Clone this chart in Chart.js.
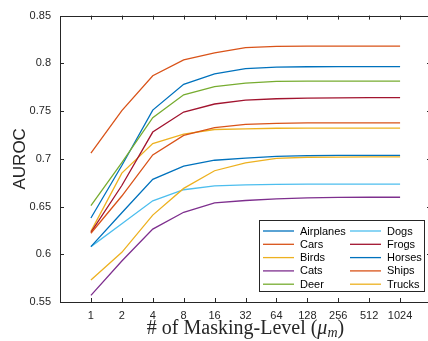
<!DOCTYPE html>
<html>
<head>
<meta charset="utf-8">
<script src="https://cdn.jsdelivr.net/npm/chart.js@4/dist/chart.umd.min.js"></script>
<style>
  html, body { margin: 0; padding: 0; background: #fff; overflow: hidden; }
  #wrap { width: 428px; height: 341px; overflow: hidden; }
  #box { width: 436px; height: 341px; }
</style>
</head>
<body>
<div id="wrap"><div id="box"><canvas id="auroc"></canvas></div></div>
<script>
// masking levels on the x axis
const levels = ['1', '2', '4', '8', '16', '32', '64', '128', '256', '512', '1024'];
const yTicks = [0.55, 0.6, 0.65, 0.7, 0.75, 0.8, 0.85];

// AUROC per class
const airplanes = [0.608, 0.6435, 0.6785, 0.6923, 0.6985, 0.7008, 0.7026, 0.7033, 0.7035, 0.7036, 0.7036];
const cars      = [0.622, 0.661, 0.704, 0.7245, 0.7327, 0.736, 0.7372, 0.7376, 0.7377, 0.7377, 0.7377];
const birds     = [0.573, 0.602, 0.641, 0.669, 0.6875, 0.6958, 0.7005, 0.7016, 0.7018, 0.702, 0.702];
const cats      = [0.557, 0.593, 0.6264, 0.644, 0.6538, 0.6563, 0.658, 0.659, 0.6595, 0.6597, 0.6597];
const deer      = [0.651, 0.696, 0.743, 0.767, 0.7756, 0.7793, 0.781, 0.7813, 0.7814, 0.7814, 0.7814];
const dogs      = [0.608, 0.632, 0.656, 0.6676, 0.6717, 0.6727, 0.6732, 0.6734, 0.6734, 0.6734, 0.6734];
const frogs     = [0.623, 0.672, 0.728, 0.749, 0.7574, 0.7615, 0.7629, 0.7636, 0.7638, 0.764, 0.764];
const horses    = [0.638, 0.693, 0.751, 0.778, 0.789, 0.7944, 0.796, 0.7964, 0.7965, 0.7965, 0.7965];
const ships     = [0.706, 0.7505, 0.787, 0.8037, 0.811, 0.8164, 0.8178, 0.818, 0.818, 0.818, 0.818];
const trucks    = [0.624, 0.685, 0.716, 0.7258, 0.7307, 0.7314, 0.732, 0.7321, 0.7321, 0.7321, 0.7321];

const classNames = ['Airplanes', 'Cars', 'Birds', 'Cats', 'Deer', 'Dogs', 'Frogs', 'Horses', 'Ships', 'Trucks'];
const series = [airplanes, cars, birds, cats, deer, dogs, frogs, horses, ships, trucks];
// matlab default colour order, wraps after 7
const palette = ['#0072BD', '#D95319', '#EDB120', '#7E2F8E', '#77AC30', '#4DBEEE', '#A2142F'];

const axisColor = '#262626';
const sans = '"Liberation Sans", Arial, sans-serif';

const datasets = series.map((vals, i) => ({
  label: classNames[i],
  data: vals.map((v, j) => ({ x: j + 1, y: v })),
  borderColor: palette[i % palette.length],
  backgroundColor: palette[i % palette.length],
  borderWidth: 1.3,
  pointRadius: 0,
  tension: 0,
  fill: false,
}));

// box round the plot with inward ticks, like matlab
const boxPlugin = {
  id: 'box',
  afterDraw(chart) {
    const { ctx, chartArea: a, scales } = chart;
    ctx.save();
    ctx.strokeStyle = axisColor;
    ctx.lineWidth = 1;
    ctx.strokeRect(Math.round(a.left) + 0.5, Math.round(a.top) + 0.5,
      Math.round(a.right - a.left), Math.round(a.bottom - a.top));
    const len = 4;
    ctx.beginPath();
    scales.x.ticks.forEach(t => {
      const px = Math.round(scales.x.getPixelForValue(t.value)) + 0.5;
      ctx.moveTo(px, a.bottom); ctx.lineTo(px, a.bottom - len);
      ctx.moveTo(px, a.top); ctx.lineTo(px, a.top + len);
    });
    scales.y.ticks.forEach(t => {
      const py = Math.round(scales.y.getPixelForValue(t.value)) + 0.5;
      ctx.moveTo(a.left, py); ctx.lineTo(a.left + len, py);
      ctx.moveTo(a.right, py); ctx.lineTo(a.right - len, py);
    });
    ctx.stroke();

    // y title
    ctx.fillStyle = axisColor;
    ctx.font = '17px ' + sans;
    ctx.textAlign = 'center';
    ctx.textBaseline = 'middle';
    ctx.translate(20, (a.top + a.bottom) / 2);
    ctx.rotate(-Math.PI / 2);
    ctx.fillText('AUROC', 0, 0);
    ctx.restore();

    // x title with subscript
    ctx.save();
    ctx.fillStyle = axisColor;
    ctx.textBaseline = 'alphabetic';
    ctx.textAlign = 'left';
    const serif = '"Liberation Serif", "DejaVu Serif", serif';
    const parts = [
      { t: '# of Masking-Level (', f: '20px ' + serif, dy: 0 },
      { t: 'μ', f: 'italic 20px ' + serif, dy: 0 },
      { t: 'm', f: 'italic 14px ' + serif, dy: 3 },
      { t: ')', f: '20px ' + serif, dy: 0 },
    ];
    let w = 0;
    parts.forEach(p => { ctx.font = p.f; p.w = ctx.measureText(p.t).width; w += p.w; });
    let x = (a.left + a.right) / 2 - w / 2;
    const base = 334;
    parts.forEach(p => { ctx.font = p.f; ctx.fillText(p.t, x, base + p.dy); x += p.w; });
    ctx.restore();

    // legend, two columns of five
    ctx.save();
    const lx = 259.5, ly = 220.5, lw = 165, lh = 71;
    ctx.fillStyle = '#fff';
    ctx.fillRect(lx, ly, lw, lh);
    ctx.strokeStyle = axisColor;
    ctx.lineWidth = 1;
    ctx.strokeRect(lx, ly, lw, lh);
    ctx.font = '11px ' + sans;
    ctx.textBaseline = 'middle';
    ctx.textAlign = 'left';
    chart.data.datasets.forEach((ds, i) => {
      const col = Math.floor(i / 5), row = i % 5;
      const x0 = col === 0 ? 263 : 350;
      const y0 = 231 + row * 13.3;
      ctx.strokeStyle = ds.borderColor;
      ctx.lineWidth = 1.3;
      ctx.beginPath();
      ctx.moveTo(x0, y0); ctx.lineTo(x0 + 31, y0);
      ctx.stroke();
      ctx.fillStyle = '#000';
      ctx.fillText(ds.label, x0 + 37, y0 + 0.5);
    });
    ctx.restore();
  }
};

new Chart(document.getElementById('auroc'), {
  type: 'line',
  data: { datasets },
  options: {
    responsive: true,
    maintainAspectRatio: false,
    animation: false,
    layout: { padding: { left: 0, right: 5, top: 10, bottom: 0 } },
    plugins: { legend: { display: false }, tooltip: { enabled: false } },
    scales: {
      x: {
        type: 'linear',
        min: 0,
        max: levels.length + 1,
        afterBuildTicks: s => { s.ticks = levels.map((l, i) => ({ value: i + 1 })); },
        afterFit: s => { s.height = 39; },
        grid: { display: false, drawTicks: false },
        border: { display: false },
        ticks: {
          color: axisColor,
          font: { family: sans, size: 11 },
          padding: 7,
          maxRotation: 0,
          autoSkip: false,
          callback: v => levels[v - 1],
        },
      },
      y: {
        min: yTicks[0],
        max: yTicks[yTicks.length - 1],
        afterBuildTicks: s => { s.ticks = yTicks.map(v => ({ value: v })); },
        afterFit: s => { s.width = 60; },
        grid: { display: false, drawTicks: false },
        border: { display: false },
        ticks: {
          color: axisColor,
          font: { family: sans, size: 11 },
          padding: 9,
          callback: v => String(+v.toFixed(2)),
        },
      },
    },
  },
  plugins: [boxPlugin],
});
</script>
</body>
</html>
